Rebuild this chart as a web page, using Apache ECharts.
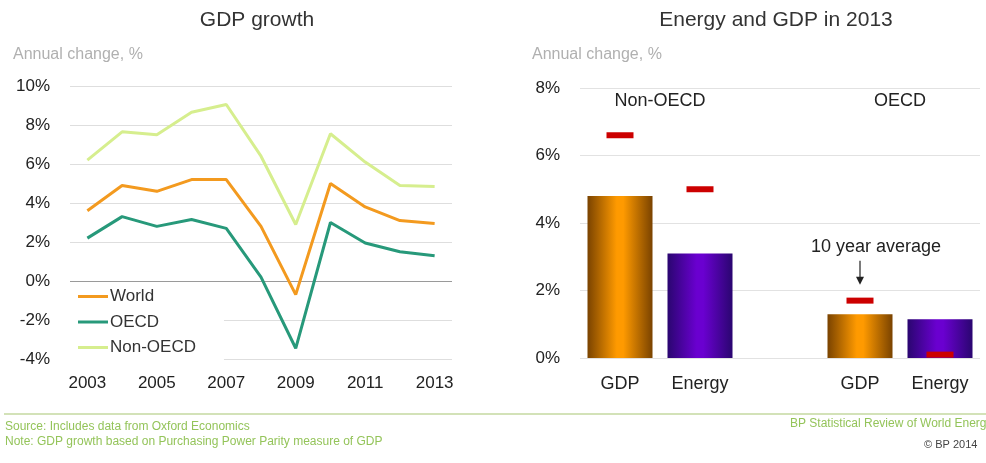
<!DOCTYPE html>
<html>
<head>
<meta charset="utf-8">
<script src="https://cdn.jsdelivr.net/npm/echarts@6/dist/echarts.min.js"></script>
<style>
  html, body { margin: 0; padding: 0; background: #fff; }
  #chart { width: 986px; height: 463px; }
</style>
</head>
<body>
<div id="chart"></div>
<script>
// GDP growth, annual change in %
var years = ['2003','2004','2005','2006','2007','2008','2009','2010','2011','2012','2013'];
var world   = [3.6, 4.9, 4.6, 5.2, 5.2, 2.8, -0.7, 5.0, 3.8, 3.1, 2.95];
var oecd    = [2.2, 3.3, 2.8, 3.15, 2.7, 0.2, -3.45, 3.0, 1.95, 1.5, 1.3];
var nonOecd = [6.2, 7.65, 7.5, 8.65, 9.05, 6.4, 2.9, 7.55, 6.1, 4.9, 4.85];
var growthTicks = [-4, 10, 2];

// Energy and GDP in 2013 by region
var regions = ['Non-OECD', 'OECD'];
var measures = ['GDP', 'Energy'];
var gdp2013 = [4.8, 1.3];
var energy2013 = [3.1, 1.15];
var gdpAvg10 = [6.6, 1.7];
var energyAvg10 = [5.0, 0.1];
var levelTicks = [0, 8, 2];

var FONT = '"Liberation Sans", Arial, sans-serif';

// five slots: two per region plus an empty spacer between them
var slots = [];
var barData = [];
var avgData = [];
regions.forEach(function (r, i) {
  if (i > 0) { slots.push(' '); barData.push('-'); avgData.push('-'); }
  slots.push(r + '|' + measures[0]);
  slots.push(r + '|' + measures[1]);
  barData.push({ value: gdp2013[i], measure: 0 });
  barData.push({ value: energy2013[i], measure: 1 });
  avgData.push(gdpAvg10[i]);
  avgData.push(energyAvg10[i]);
});

function grad(edge, mid) {
  return new echarts.graphic.LinearGradient(0, 0, 1, 0, [
    { offset: 0, color: edge },
    { offset: 0.45, color: mid },
    { offset: 0.55, color: mid },
    { offset: 1, color: edge }
  ]);
}
var barFills = [grad('#7a4300', '#ff9a00'), grad('#2a0670', '#6a00d0')];
barData.forEach(function (d) {
  if (d !== '-') d.itemStyle = { color: barFills[d.measure] };
});

var chart = echarts.init(document.getElementById('chart'));

var option = {
  animation: false,
  textStyle: { fontFamily: FONT },
  title: [
    { text: 'GDP growth', left: 252, top: 5, textAlign: 'center',
      textStyle: { fontFamily: FONT, fontSize: 21, fontWeight: 'normal', color: '#333' } },
    { text: 'Energy and GDP in 2013', left: 771, top: 5, textAlign: 'center',
      textStyle: { fontFamily: FONT, fontSize: 21, fontWeight: 'normal', color: '#333' } },
    { text: 'Annual change, %', left: 8, top: 42,
      textStyle: { fontFamily: FONT, fontSize: 16, fontWeight: 'normal', color: '#b0b0b0' } },
    { text: 'Annual change, %', left: 527, top: 42,
      textStyle: { fontFamily: FONT, fontSize: 16, fontWeight: 'normal', color: '#b0b0b0' } }
  ],
  legend: {
    data: ['World', 'OECD', 'Non-OECD'],
    orient: 'vertical',
    left: 68, top: 284,
    itemWidth: 30, itemHeight: 3,
    itemGap: 8.5,
    icon: 'rect',
    padding: [4, 28, 12, 10],
    backgroundColor: '#fff',
    textStyle: { fontFamily: FONT, fontSize: 17, color: '#333', padding: [0, 0, 0, -3] }
  },
  grid: [
    { left: 70, right: 534, top: 86, bottom: 104 },
    { left: 580, right: 6, top: 88, bottom: 105 }
  ],
  xAxis: [
    { type: 'category', gridIndex: 0, data: years, boundaryGap: true,
      axisLine: { show: false }, axisTick: { show: false },
      axisLabel: { interval: 1, fontSize: 17, color: '#222', margin: 16, fontFamily: FONT } },
    { type: 'category', gridIndex: 1, data: slots,
      axisLine: { show: false }, axisTick: { show: false },
      axisLabel: { interval: 0, fontSize: 18, color: '#222', margin: 17, fontFamily: FONT,
        formatter: function (v) { var p = v.split('|'); return p.length > 1 ? p[1] : ''; } } }
  ],
  yAxis: [
    { type: 'value', gridIndex: 0, min: growthTicks[0], max: growthTicks[1], interval: growthTicks[2],
      axisLine: { show: false }, axisTick: { show: false },
      axisLabel: { formatter: '{value}%', fontSize: 17, color: '#222', margin: 20, fontFamily: FONT },
      splitLine: { lineStyle: { width: 1.2,
        color: ['#dedede', '#dedede', '#9a9a9a', '#dedede', '#dedede', '#dedede', '#dedede', '#dedede'] } } },
    { type: 'value', gridIndex: 1, min: levelTicks[0], max: levelTicks[1], interval: levelTicks[2],
      axisLine: { show: false }, axisTick: { show: false },
      axisLabel: { formatter: '{value}%', fontSize: 17, color: '#222', margin: 20, fontFamily: FONT },
      splitLine: { lineStyle: { width: 1.2, color: '#e2e2e2' } } }
  ],
  series: [
    { name: 'Non-OECD', type: 'line', xAxisIndex: 0, yAxisIndex: 0, data: nonOecd,
      symbol: 'none', lineStyle: { width: 3, color: '#d6ee8e' }, itemStyle: { color: '#d6ee8e' } },
    { name: 'World', type: 'line', xAxisIndex: 0, yAxisIndex: 0, data: world,
      symbol: 'none', lineStyle: { width: 3, color: '#f39a1f' }, itemStyle: { color: '#f39a1f' } },
    { name: 'OECD', type: 'line', xAxisIndex: 0, yAxisIndex: 0, data: oecd,
      symbol: 'none', lineStyle: { width: 3, color: '#27997a' }, itemStyle: { color: '#27997a' } },
    { name: 'GDP and energy 2013', type: 'bar', xAxisIndex: 1, yAxisIndex: 1,
      data: barData, barWidth: 65 },
    { name: '10 year average', type: 'scatter', xAxisIndex: 1, yAxisIndex: 1,
      data: avgData, symbol: 'rect', symbolSize: [27, 6], z: 5,
      itemStyle: { color: '#cc0000', opacity: 1 } }
  ]
};
chart.setOption(option);

// annotations placed from the data scales
function px(slot, v) { return chart.convertToPixel({ gridIndex: 1 }, [slot, v]); }
var graphics = [];
regions.forEach(function (r, i) {
  var a = px(r + '|' + measures[0], 7.6);
  var b = px(r + '|' + measures[1], 7.6);
  graphics.push({ type: 'text', x: (a[0] + b[0]) / 2, y: a[1],
    style: { text: r, font: '18px ' + FONT, fill: '#222', textAlign: 'center', textVerticalAlign: 'middle' } });
});
var avgPt = px('OECD|GDP', gdpAvg10[1]);
graphics.push({ type: 'text', x: avgPt[0] + 16, y: avgPt[1] - 54,
  style: { text: '10 year average', font: '18px ' + FONT, fill: '#222', textAlign: 'center', textVerticalAlign: 'middle' } });
graphics.push({ type: 'line', shape: { x1: avgPt[0], y1: avgPt[1] - 40, x2: avgPt[0], y2: avgPt[1] - 22 },
  style: { stroke: '#222', lineWidth: 1.2 } });
graphics.push({ type: 'polygon', shape: { points: [[avgPt[0] - 4, avgPt[1] - 24], [avgPt[0] + 4, avgPt[1] - 24], [avgPt[0], avgPt[1] - 16]] },
  style: { fill: '#222' } });

// footer
graphics.push({ type: 'rect', shape: { x: 4, y: 413, width: 982, height: 2 }, style: { fill: '#d3e2b8' } });
graphics.push({ type: 'text', x: 5, y: 427, style: { text: 'Source: Includes data from Oxford Economics',
  font: '12px ' + FONT, fill: '#94c45a', textVerticalAlign: 'middle' } });
graphics.push({ type: 'text', x: 5, y: 442, style: { text: 'Note: GDP growth based on Purchasing Power Parity measure of GDP',
  font: '12px ' + FONT, fill: '#94c45a', textVerticalAlign: 'middle' } });
graphics.push({ type: 'text', x: 790, y: 424, style: { text: 'BP Statistical Review of World Energy 2014',
  font: '12px ' + FONT, fill: '#94c45a', textVerticalAlign: 'middle' } });
graphics.push({ type: 'text', x: 924, y: 445, style: { text: '\u00A9 BP 2014',
  font: '11px ' + FONT, fill: '#444', textVerticalAlign: 'middle' } });

chart.setOption({ graphic: graphics });
</script>
</body>
</html>
